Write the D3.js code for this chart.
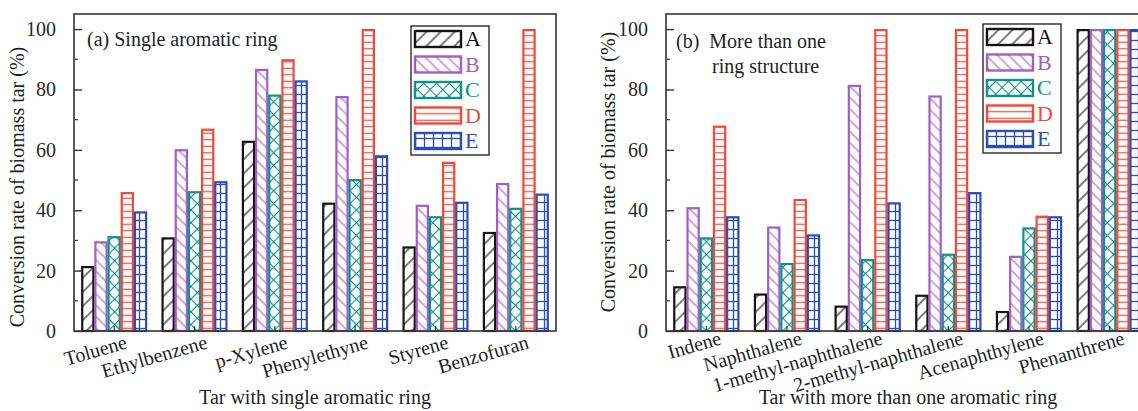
<!DOCTYPE html>
<html><head><meta charset="utf-8">
<script src="https://cdn.jsdelivr.net/npm/d3@7"></script>
<style>
html,body{margin:0;padding:0;background:#fff;}
svg{display:block;}
text{font-family:"Liberation Serif","Times New Roman",serif;fill:#1f1f28;}
</style></head>
<body>
<svg id="chart" width="1138" height="411"></svg>
<script>
// ---------- data ----------
const seriesNames = ["A","B","C","D","E"];
const catsSingle = ["Toluene","Ethylbenzene","p-Xylene","Phenylethyne","Styrene","Benzofuran"];
const singleA = [21.5, 31, 63, 42.5, 28, 32.8];
const singleB = [29.7, 60.2, 86.8, 77.8, 41.8, 49];
const singleC = [31.4, 46.3, 78.3, 50.3, 38, 40.8];
const singleD = [46, 67, 90, 100, 56, 100];
const singleE = [39.6, 49.6, 83, 58.2, 42.8, 45.5];

const catsMulti = ["Indene","Naphthalene","1-methyl-naphthalene","2-methyl-naphthalene","Acenaphthylene","Phenanthrene"];
const multiA = [14.8, 12.4, 8.4, 12, 6.6, 100];
const multiB = [41, 34.6, 81.5, 78, 24.9, 100];
const multiC = [31, 22.5, 23.8, 25.6, 34.3, 100];
const multiD = [68, 43.7, 100, 100, 38.2, 100];
const multiE = [38, 32, 42.6, 46, 38, 100];

const yTicks = [0,20,40,60,80,100];
const yTitle = "Conversion rate of biomass tar (%)";

// ---------- styles ----------
const colors = {A:"#141414", B:"#a35ec6", C:"#11918d", D:"#f2483a", E:"#2a4cbf"};
const FONT = '"Liberation Serif","Times New Roman",serif';
const svg = d3.select("#chart");
const defs = svg.append("defs");

function mkPattern(id, size, rot, draw){
  const p = defs.append("pattern").attr("id", id)
    .attr("patternUnits","userSpaceOnUse")
    .attr("width", size).attr("height", size);
  if (rot) p.attr("patternTransform", `rotate(${rot})`);
  p.append("rect").attr("width", size).attr("height", size).attr("fill","#fff");
  draw(p, size);
}
mkPattern("pA", 10, 45, (p,s)=>p.append("line").attr("x1",s/2).attr("x2",s/2).attr("y1",0).attr("y2",s)
  .attr("stroke",colors.A).attr("stroke-width",1.1));
mkPattern("pB", 8, -45, (p,s)=>p.append("line").attr("x1",s/2).attr("x2",s/2).attr("y1",0).attr("y2",s)
  .attr("stroke",colors.B).attr("stroke-width",1.1));
mkPattern("pC", 9, 45, (p,s)=>{
  p.append("line").attr("x1",s/2).attr("x2",s/2).attr("y1",0).attr("y2",s).attr("stroke",colors.C).attr("stroke-width",1.1);
  p.append("line").attr("y1",s/2).attr("y2",s/2).attr("x1",0).attr("x2",s).attr("stroke",colors.C).attr("stroke-width",1.1);
});
mkPattern("pD", 6.5, 0, (p,s)=>p.append("line").attr("y1",s/2).attr("y2",s/2).attr("x1",0).attr("x2",s)
  .attr("stroke",colors.D).attr("stroke-width",1.2));
mkPattern("pE", 9, 0, (p,s)=>{
  p.append("line").attr("y1",s/2).attr("y2",s/2).attr("x1",0).attr("x2",s).attr("stroke",colors.E).attr("stroke-width",1.3);
  p.append("line").attr("x1",s/2).attr("x2",s/2).attr("y1",0).attr("y2",s).attr("stroke",colors.E).attr("stroke-width",1.3);
});

const plotTop = 14, plotBottom = 331;
const y = d3.scaleLinear().domain([0,105]).range([plotBottom, plotTop]);

function panel(opts){
  const {x0, x1, cats, values, titleLines, xTitle, yTitleX, yTitleY, legendX, tickLabelDx, tickLabelDy} = opts;
  const g = svg.append("g");
  const x = d3.scaleBand().domain(cats).range([x0, x1]).paddingInner(0.18).paddingOuter(0.09);
  const xs = d3.scaleBand().domain(seriesNames).range([0, x.bandwidth()]);

  // bars
  seriesNames.forEach((s, si) => {
    g.append("g").selectAll("rect").data(values[si]).join("rect")
      .attr("x", (d,i) => x(cats[i]) + xs(s) + 1)
      .attr("width", xs.bandwidth() - 2)
      .attr("y", d => y(d) + 1)
      .attr("height", d => Math.max(0, y(0) - y(d) - 1))
      .attr("fill", `url(#p${s})`)
      .attr("stroke", colors[s]).attr("stroke-width", 2.2);
  });

  // frame
  g.append("rect").attr("x", x0).attr("y", plotTop).attr("width", x1 - x0).attr("height", plotBottom - plotTop)
    .attr("fill","none").attr("stroke","#3a3434").attr("stroke-width",1.6);

  // y axis (ticks inside)
  const yAxis = d3.axisLeft(y).tickValues(yTicks).tickSize(-8).tickPadding(18).tickFormat(d3.format("d"));
  const ya = g.append("g").attr("transform", `translate(${x0},0)`).call(yAxis);
  ya.attr("font-family", null).attr("font-size", null);
  ya.select(".domain").remove();
  ya.selectAll("line").attr("stroke","#3a3434").attr("stroke-width",1.4);
  ya.selectAll("text").style("font-family", FONT).style("font-size", "20px").style("fill","#2a2a2a");
  const minor = d3.range(10, 105, 20);
  g.append("g").selectAll("line").data(minor).join("line")
    .attr("x1", x0).attr("x2", x0 + 4).attr("y1", d => y(d)).attr("y2", d => y(d))
    .attr("stroke","#3a3434").attr("stroke-width",1.2);

  // x axis ticks (inside)
  const xAxis = d3.axisBottom(x).tickSize(-5).tickFormat("");
  const xa = g.append("g").attr("transform", `translate(0,${plotBottom})`).call(xAxis);
  xa.select(".domain").remove();
  xa.selectAll("line").attr("stroke","#3a3434").attr("stroke-width",1.2);

  // x tick labels (rotated)
  g.append("g").selectAll("text").data(cats).join("text")
    .attr("transform", d => `translate(${x(d) + x.bandwidth()/2 + tickLabelDx},${plotBottom + tickLabelDy}) rotate(-16)`)
    .attr("text-anchor","end").style("font-size", "20px").text(d => d);

  // axis titles
  g.append("text").attr("x", (x0 + x1)/2).attr("y", 404).attr("text-anchor","middle")
    .style("font-size", "20px").text(xTitle);
  g.append("text").attr("transform", `translate(${yTitleX},${yTitleY}) rotate(-90)`)
    .attr("text-anchor","middle").style("font-size", "20px").text(yTitle);

  // panel title
  titleLines.forEach(t => {
    g.append("text").attr("x", t.x).attr("y", t.y).style("font-size", "20px").attr("xml:space","preserve").text(t.text);
  });

  // legend
  const lg = g.append("g").attr("transform", `translate(${legendX},${opts.legendY})`);
  lg.append("rect").attr("x",0).attr("y",0).attr("width",78).attr("height",129)
    .attr("fill","#fff").attr("stroke","#2a2a2a").attr("stroke-width",1.4);
  seriesNames.forEach((s, i) => {
    lg.append("rect").attr("x",4).attr("y", 5 + i*25.5).attr("width",46).attr("height",16)
      .attr("fill", `url(#p${s})`).attr("stroke", colors[s]).attr("stroke-width", 2.4);
    lg.append("text").attr("x", 54).attr("y", 20 + i*25.5).style("font-size", "22px")
      .style("fill", colors[s]).text(s);
  });
}

panel({
  x0: 74, x1: 556, cats: catsSingle,
  values: [singleA, singleB, singleC, singleD, singleE],
  titleLines: [{x: 87, y: 46, text: "(a) Single aromatic ring"}],
  xTitle: "Tar with single aromatic ring",
  yTitleX: 24, yTitleY: 187, legendX: 411, legendY: 26, tickLabelDx: 14, tickLabelDy: 17
});
panel({
  x0: 666, x1: 1150, cats: catsMulti,
  values: [multiA, multiB, multiC, multiD, multiE],
  titleLines: [{x: 676, y: 48, text: "(b)  More than one"}, {x: 712, y: 73, text: "ring structure"}],
  xTitle: "Tar with more than one aromatic ring",
  yTitleX: 615, yTitleY: 172, legendX: 983, legendY: 24, tickLabelDx: 16, tickLabelDy: 13
});
</script>
</body></html>
